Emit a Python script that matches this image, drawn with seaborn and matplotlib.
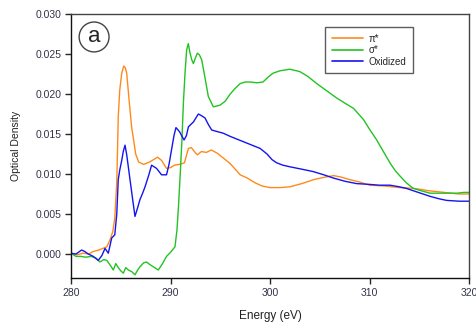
import numpy as np
import pandas as pd
import matplotlib
matplotlib.use("Agg")
import matplotlib.pyplot as plt
import seaborn as sns

# Spectra
orange_e = [280.0, 280.6, 281.2, 281.8, 282.2, 282.8, 283.2, 283.6, 283.9, 284.2,
            284.4, 284.6, 284.75, 284.9, 285.1, 285.3, 285.45, 285.6, 285.75, 285.9,
            286.1, 286.3, 286.5, 286.8, 287.3, 287.9, 288.3, 288.7, 289.1, 289.6,
            290.0, 290.4, 290.9, 291.4, 291.8, 292.1, 292.4, 292.7, 293.1, 293.6,
            294.1, 294.7, 295.3, 296.0, 297.0, 297.7, 298.5, 299.2, 300.0, 301.0,
            302.0, 303.2, 304.4, 305.5, 306.4, 307.2, 308.0, 309.0, 310.0, 311.5,
            313.0, 314.5, 316.0, 317.5, 319.0, 320.0]
orange_v = [0.0001, -0.0001, 0.0001, 0.0, 0.0003, 0.0005, 0.0007, 0.0009, 0.0017, 0.0028,
            0.0045, 0.0090, 0.0172, 0.0205, 0.0226, 0.0235, 0.0233, 0.0226, 0.0205, 0.0184,
            0.0158, 0.0142, 0.0125, 0.0115, 0.0112, 0.0115, 0.0118, 0.0121, 0.0117, 0.0107,
            0.0108, 0.0111, 0.0112, 0.0114, 0.0132, 0.0133, 0.0128, 0.0124, 0.0128, 0.0127,
            0.0130, 0.0126, 0.0120, 0.0113, 0.0099, 0.0095, 0.0089, 0.0085, 0.0083, 0.0083,
            0.0084, 0.0088, 0.0093, 0.0096, 0.0098, 0.0096, 0.0093, 0.0090, 0.0086, 0.0085,
            0.0083, 0.0082, 0.0079, 0.0077, 0.0075, 0.0075]

green_e = [280.0, 280.5, 281.0, 281.5, 282.0, 282.5, 282.9, 283.3, 283.6, 284.0,
           284.25, 284.5, 284.75, 285.0, 285.26, 285.5, 285.76, 286.1, 286.43, 286.7,
           286.93, 287.3, 287.6, 287.9, 288.27, 288.77, 289.2, 289.6, 290.0, 290.45,
           290.65, 290.8, 291.0, 291.15, 291.3, 291.46, 291.62, 291.79, 291.95, 292.13,
           292.3, 292.5, 292.7, 292.9, 293.13, 293.4, 293.8, 294.3, 294.97, 295.5,
           296.0, 296.5, 297.0, 297.5, 298.0, 298.7, 299.3, 299.8, 300.3, 301.0,
           302.0, 303.0, 303.8, 304.7, 305.7, 306.7, 307.6, 308.4, 309.4, 310.0,
           310.7, 311.4, 312.1, 312.6, 313.1, 313.7, 314.4, 315.2, 316.1, 317.0,
           318.0, 318.8, 319.5, 320.0]
green_v = [0.0001, -0.0003, -0.0003, -0.0004, -0.0003, -0.0005, -0.001, -0.0007, -0.0008, -0.0015,
           -0.002, -0.0012, -0.0017, -0.0021, -0.0024, -0.0017, -0.002, -0.0022, -0.0026, -0.002,
           -0.0016, -0.0011, -0.001, -0.0013, -0.0016, -0.002, -0.0012, -0.0003, 0.0002, 0.0009,
           0.003, 0.0059, 0.0105, 0.0143, 0.019, 0.0226, 0.0255, 0.0263, 0.0252, 0.0243,
           0.0238, 0.0245, 0.0251, 0.0249, 0.0243, 0.0225, 0.0197, 0.0184, 0.0186, 0.0191,
           0.0200, 0.0207, 0.0213, 0.0215, 0.0215, 0.0214, 0.0215, 0.0221, 0.0226, 0.0229,
           0.0231, 0.0228, 0.0222, 0.0213, 0.0204, 0.0195, 0.0188, 0.0182, 0.0168, 0.0156,
           0.0143, 0.0128, 0.0113, 0.0104, 0.0097, 0.0089, 0.0082, 0.0079, 0.0076, 0.0076,
           0.0076, 0.0076, 0.0077, 0.0077]

blue_e = [280.0, 280.5, 281.07, 281.4, 281.74, 282.24, 282.74, 283.1, 283.42, 283.75,
          284.09, 284.4, 284.6, 284.75, 284.9, 285.1, 285.25, 285.43, 285.6, 285.75,
          285.93, 286.2, 286.43, 286.7, 286.93, 287.2, 287.44, 287.8, 288.1, 288.6,
          289.1, 289.6, 289.85, 290.1, 290.35, 290.55, 290.9, 291.36, 291.6, 291.8,
          292.3, 292.8, 293.1, 293.47, 293.8, 294.14, 294.7, 295.3, 296.0, 297.0,
          298.0, 299.0, 299.7, 300.2, 300.67, 301.3, 302.0, 303.2, 304.35, 305.4,
          306.36, 307.5, 308.7, 310.0, 311.0, 312.06, 313.0, 313.7, 314.9, 316.1,
          317.0, 317.75, 319.0, 320.0]
blue_v = [0.0001, 0.0, 0.0005, 0.0003, 0.0, -0.0003, -0.0008, -0.0002, 0.0007, 0.0001,
          0.002, 0.0024, 0.005, 0.0093, 0.0105, 0.0117, 0.0128, 0.0136, 0.0124, 0.0110,
          0.0093, 0.0068, 0.0047, 0.0058, 0.0068, 0.0076, 0.0084, 0.0098, 0.0111, 0.0107,
          0.0099, 0.0099, 0.0112, 0.013, 0.0148, 0.0158, 0.0153, 0.01425, 0.0148, 0.0159,
          0.0165, 0.0175, 0.0173, 0.0170, 0.0162, 0.0155, 0.0153, 0.0151, 0.0147, 0.0142,
          0.0137, 0.0132, 0.0125, 0.0118, 0.0114, 0.0111, 0.0109, 0.0106, 0.0103, 0.0099,
          0.0095, 0.0091, 0.0088, 0.0087, 0.0086, 0.0086, 0.0084, 0.0082, 0.0077, 0.0072,
          0.0069, 0.0067, 0.0066, 0.0066]

labels = ["π*", "σ*", "Oxidized"]
colors = ["#ff8a1c", "#22c322", "#1414f0"]

# Build long table for seaborn
frames = []
for name, e, v in zip(labels, [orange_e, green_e, blue_e], [orange_v, green_v, blue_v]):
    frames.append(pd.DataFrame({"Energy": e, "OD": v, "series": name}))
df = pd.concat(frames, ignore_index=True)

sns.set_style("ticks")
plt.rcParams["font.family"] = ["Liberation Sans", "DejaVu Sans"]

fig = plt.figure(figsize=(4.76, 3.22), dpi=100)
ax = fig.add_axes([71 / 476, 1 - 278 / 322, 398 / 476, 264 / 322])

sns.lineplot(data=df, x="Energy", y="OD", hue="series", palette=dict(zip(labels, colors)),
             sort=False, estimator=None, linewidth=1.0, ax=ax, legend=False)

ax.set_xlim(280, 320)
ax.set_ylim(-0.003, 0.030)
ax.set_xticks([280, 290, 300, 310, 320])
ax.set_yticks([0.000, 0.005, 0.010, 0.015, 0.020, 0.025, 0.030])
ax.yaxis.set_major_formatter(matplotlib.ticker.FormatStrFormatter("%.3f"))
ax.tick_params(axis="both", labelsize=7.5, labelcolor="#33334a", length=4, width=1, direction="out", pad=3)

ax.set_xlabel("Energy (eV)", fontsize=8.5, color="#222222", labelpad=9)
ax.set_ylabel("Optical Density", fontsize=7.5, color="#222222", labelpad=10)

for side in ["left", "bottom"]:
    ax.spines[side].set_color("#111111")
    ax.spines[side].set_linewidth(1.0)
for side in ["top", "right"]:
    ax.spines[side].set_color("#444444")
    ax.spines[side].set_linewidth(1.0)

# Legend
handles = [matplotlib.lines.Line2D([], [], color=c, lw=1.2) for c in colors]
leg = ax.legend(handles, labels, loc="upper left", bbox_to_anchor=(0.638, 0.951),
                fontsize=7, frameon=True, fancybox=False, handlelength=3.2,
                borderpad=0.7, labelspacing=0.15, handletextpad=0.6, borderaxespad=0)
leg.get_frame().set_edgecolor("#333333")
leg.get_frame().set_linewidth(1.0)

# Panel letter in a circle
ax.text(0.058, 0.913, "a", transform=ax.transAxes, fontsize=16, ha="center", va="center",
        bbox=dict(boxstyle="circle,pad=0.2", fc="white", ec="#444444", lw=1.0))

fig.savefig("out.png", dpi=100)
